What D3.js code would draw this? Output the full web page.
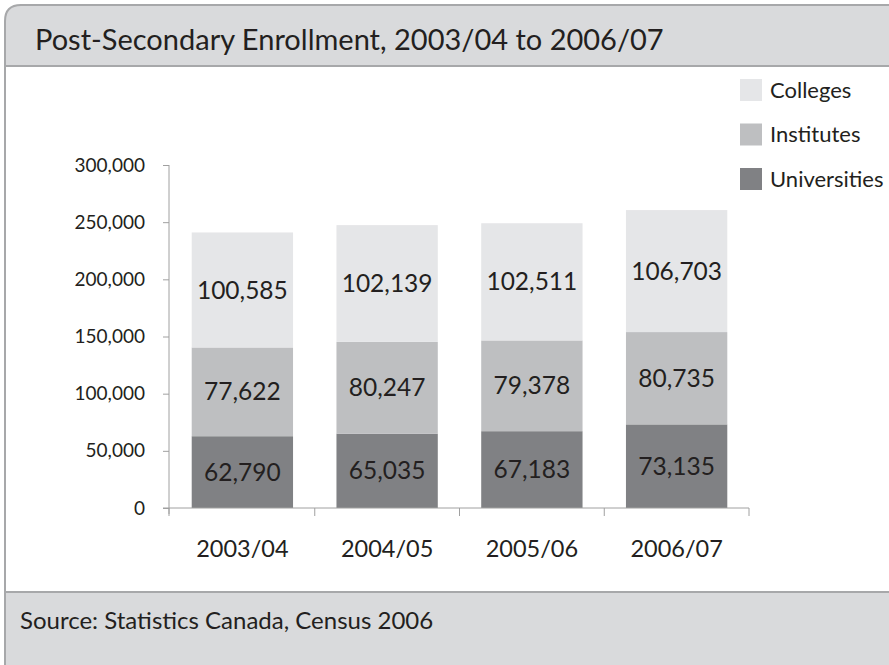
<!DOCTYPE html>
<html>
<head>
<meta charset="utf-8">
<script src="https://cdn.jsdelivr.net/npm/d3@7"></script>
<style>
  html, body { margin: 0; padding: 0; background: #ffffff; }
  svg { display: block; font-family: Lato, "Open Sans", sans-serif; }
</style>
</head>
<body>
<svg id="chart" width="889" height="665"></svg>
<script>
// Enrollment by institution type and academic year
const years = ["2003/04", "2004/05", "2005/06", "2006/07"];
const universities = [62790, 65035, 67183, 73135];
const institutes = [77622, 80247, 79378, 80735];
const colleges = [100585, 102139, 102511, 106703];
const seriesNames = ["Universities", "Institutes", "Colleges"];
const seriesColors = ["#808184", "#bebfc1", "#e5e6e8"];
const yTicks = [0, 50000, 100000, 150000, 200000, 250000, 300000];

const svg = d3.select("#chart");
const W = 889, H = 665;

// Frame: header band, white body, footer band
const frameLeft = 5, frameTop = 5, headerBottom = 66, footerTop = 592, r = 16;
svg.append("path")
  .attr("d", `M${frameLeft},${H} L${frameLeft},${frameTop + r} Q${frameLeft},${frameTop} ${frameLeft + r},${frameTop} L${W},${frameTop} L${W},${headerBottom} L${frameLeft},${headerBottom} Z`)
  .attr("fill", "#d9dadc");
svg.append("rect").attr("x", frameLeft).attr("y", headerBottom).attr("width", W - frameLeft).attr("height", footerTop - headerBottom).attr("fill", "#ffffff");
svg.append("rect").attr("x", frameLeft).attr("y", footerTop).attr("width", W - frameLeft).attr("height", H - footerTop).attr("fill", "#d9dadc");
svg.append("path")
  .attr("d", `M${frameLeft},${H} L${frameLeft},${frameTop + r} Q${frameLeft},${frameTop} ${frameLeft + r},${frameTop} L${W},${frameTop}`)
  .attr("fill", "none").attr("stroke", "#a7a8aa").attr("stroke-width", 2);
svg.append("line").attr("x1", frameLeft).attr("x2", W).attr("y1", headerBottom).attr("y2", headerBottom).attr("stroke", "#a7a8aa").attr("stroke-width", 2);
svg.append("line").attr("x1", frameLeft).attr("x2", W).attr("y1", footerTop).attr("y2", footerTop).attr("stroke", "#a7a8aa").attr("stroke-width", 2);

svg.append("text").attr("x", 35).attr("y", 50)
  .attr("font-size", 29).attr("fill", "#231f20")
  .text("Post-Secondary Enrollment, 2003/04 to 2006/07");
svg.append("text").attr("x", 20).attr("y", 629)
  .attr("font-size", 24).attr("fill", "#231f20")
  .text("Source: Statistics Canada, Census 2006");

// Scales
const x = d3.scaleBand().domain(years).range([170, 749]).paddingInner(0.3).paddingOuter(0.15);
const y = d3.scaleLinear().domain([0, 300000]).range([508, 165]);

// Stack
const rows = years.map((yr, i) => ({ year: yr, Universities: universities[i], Institutes: institutes[i], Colleges: colleges[i] }));
const stacked = d3.stack().keys(seriesNames)(rows);

const g = svg.append("g");
stacked.forEach((layer, li) => {
  g.selectAll(null).data(layer).join("rect")
    .attr("x", d => x(d.data.year))
    .attr("y", d => y(d[1]))
    .attr("width", x.bandwidth())
    .attr("height", d => y(d[0]) - y(d[1]))
    .attr("fill", seriesColors[li]);
  g.selectAll(null).data(layer).join("text")
    .attr("x", d => x(d.data.year) + x.bandwidth() / 2)
    .attr("y", d => (y(d[0]) + y(d[1])) / 2)
    .attr("dy", "0.35em")
    .attr("text-anchor", "middle")
    .attr("font-size", 24.5).attr("fill", "#231f20")
    .text(d => d3.format(",")(d[1] - d[0]));
});

// Y axis
const yAxis = svg.append("g").attr("transform", "translate(169,0)")
  .call(d3.axisLeft(y).tickValues(yTicks).tickFormat(d3.format(",")).tickSize(6).tickPadding(18));
yAxis.select(".domain").attr("stroke", "#a0a0a0").attr("d", `M0,${y(300000)}V${y(0) + 6}`);
yAxis.selectAll(".tick line").attr("stroke", "#a0a0a0");
yAxis.selectAll(".tick text").attr("font-size", 19).attr("fill", "#231f20").attr("font-family", "Lato, sans-serif");

// X axis with tick marks at category boundaries
const xAxisG = svg.append("g");
xAxisG.append("line").attr("x1", 163).attr("x2", 749).attr("y1", y(0)).attr("y2", y(0)).attr("stroke", "#a0a0a0");
const boundaries = years.map(yr => x(yr) - x.step() * x.paddingInner() / 2);
boundaries.push(x.range()[1]);
boundaries[0] = 169;
xAxisG.selectAll(null).data(boundaries).join("line")
  .attr("x1", d => d).attr("x2", d => d)
  .attr("y1", y(0)).attr("y2", y(0) + 8)
  .attr("stroke", "#a0a0a0");
xAxisG.selectAll(null).data(years).join("text")
  .attr("x", d => x(d) + x.bandwidth() / 2)
  .attr("y", 549).attr("dy", "0.35em")
  .attr("text-anchor", "middle")
  .attr("font-size", 23.5).attr("fill", "#231f20")
  .text(d => d);

// Legend (top to bottom: Colleges, Institutes, Universities)
const legendOrder = [2, 1, 0];
const legend = svg.append("g");
legendOrder.forEach((si, k) => {
  const cy = 90 + k * 44.5;
  legend.append("rect").attr("x", 740).attr("y", cy - 11).attr("width", 22).attr("height", 22).attr("fill", seriesColors[si]);
  legend.append("text").attr("x", 770).attr("y", cy).attr("dy", "0.35em")
    .attr("font-size", 22).attr("fill", "#231f20").text(seriesNames[si]);
});
</script>
</body>
</html>
